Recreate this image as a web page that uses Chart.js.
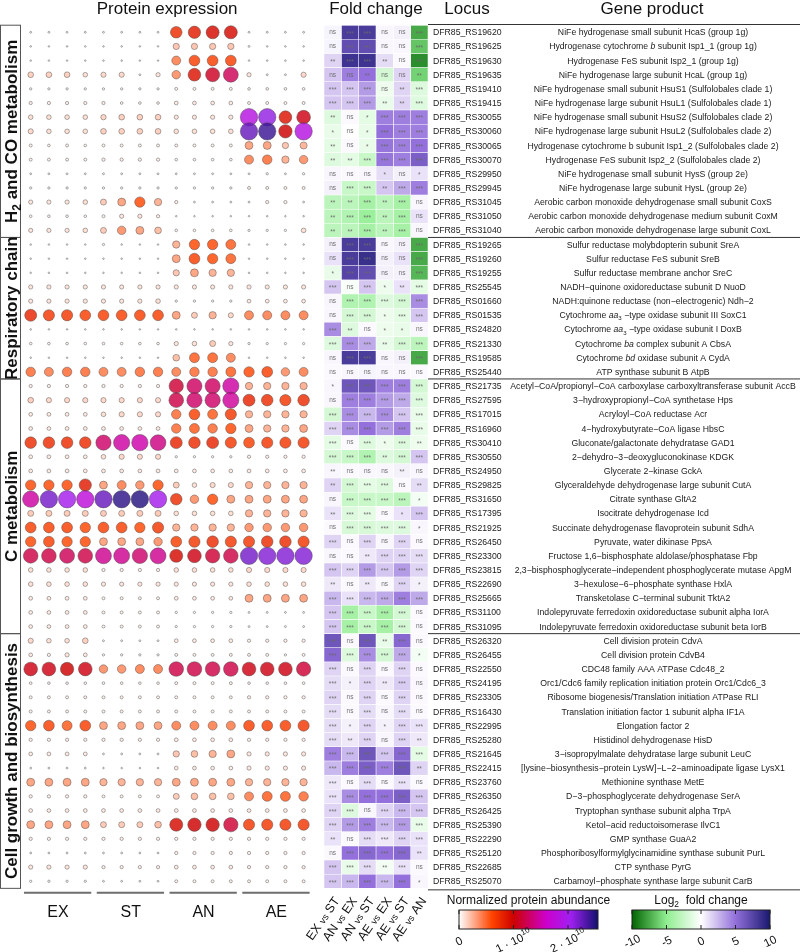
<!DOCTYPE html>
<html>
<head>
<meta charset="utf-8">
<script src="https://cdn.jsdelivr.net/npm/chart.js@4.4.1/dist/chart.umd.min.js"></script>
<style>
  html, body { margin: 0; padding: 0; background: #fff; }
  #wrap { position: relative; width: 800px; height: 952px; }
  canvas { position: absolute; top: 0; }
  #bubbles { left: 0; }
  #heat { left: 290px; }
</style>
</head>
<body>
<div id="wrap">
  <canvas id="bubbles" width="322" height="952"></canvas>
  <canvas id="heat" width="510" height="952"></canvas>
</div>
<script>
/* ==========================
   Data
   ========================== */
const groups = ['H~2~ and CO metabolism', 'Respiratory chain', 'C metabolism', 'Cell growth and biosynthesis'];
const groupSizes = [15, 10, 18, 18];
const conditions = ['EX', 'ST', 'AN', 'AE'];
const comparisons = ['EX %vs% ST', 'AN %vs% EX', 'AN %vs% ST', 'AE %vs% EX', 'AE %vs% ST', 'AE %vs% AN'];

const loci = [
  'RS19620', 'RS19625', 'RS19630', 'RS19635', 'RS19410', 'RS19415', 'RS30055', 'RS30060', 'RS30065', 'RS30070',
  'RS29950', 'RS29945', 'RS31045', 'RS31050', 'RS31040',
  'RS19265', 'RS19260', 'RS19255', 'RS25545', 'RS01660', 'RS01535', 'RS24820', 'RS21330', 'RS19585', 'RS25440',
  'RS21735', 'RS27595', 'RS17015', 'RS16960', 'RS30410', 'RS30550', 'RS24950', 'RS29825', 'RS31650', 'RS17395',
  'RS21925', 'RS26450', 'RS23300', 'RS23815', 'RS22690', 'RS25665', 'RS31100', 'RS31095',
  'RS26320', 'RS26455', 'RS22550', 'RS24195', 'RS23305', 'RS16430', 'RS22995', 'RS25280', 'RS21645', 'RS22415',
  'RS23760', 'RS26350', 'RS26425', 'RS25390', 'RS22290', 'RS25120', 'RS22685', 'RS25070'
].map(s => 'DFR85_' + s);

// *x* italic, ~x~ subscript
const products = [
  'NiFe hydrogenase small subunit HcaS (group 1g)',
  'Hydrogenase cytochrome *b* subunit Isp1_1 (group 1g)',
  'Hydrogenase FeS subunit Isp2_1 (group 1g)',
  'NiFe hydrogenase large subunit HcaL (group 1g)',
  'NiFe hydrogenase small subunit HsuS1 (Sulfolobales clade 1)',
  'NiFe hydrogenase large subunit HsuL1 (Sulfolobales clade 1)',
  'NiFe hydrogenase small subunit HsuS2 (Sulfolobales clade 2)',
  'NiFe hydrogenase large subunit HsuL2 (Sulfolobales clade 2)',
  'Hydrogenase cytochrome b subunit Isp1_2 (Sulfolobales clade 2)',
  'Hydrogenase FeS subunit Isp2_2 (Sulfolobales clade 2)',
  'NiFe hydrogenase small subunit HysS (group 2e)',
  'NiFe hydrogenase large subunit HysL (group 2e)',
  'Aerobic carbon monoxide dehydrogenase small subunit CoxS',
  'Aerobic carbon monoxide dehydrogenase medium subunit CoxM',
  'Aerobic carbon monoxide dehydrogenase large subunit CoxL',
  'Sulfur reductase molybdopterin subunit SreA',
  'Sulfur reductase FeS subunit SreB',
  'Sulfur reductase membrane anchor SreC',
  'NADH−quinone oxidoreductase subunit D NuoD',
  'NADH:quinone reductase (non−electrogenic) Ndh−2',
  'Cytochrome *aa*~3~ −type oxidase subunit III SoxC1',
  'Cytochrome *aa*~3~ −type oxidase subunit I DoxB',
  'Cytochrome *ba* complex subunit A CbsA',
  'Cytochrome *bd* oxidase subunit A CydA',
  'ATP synthase subunit B AtpB',
  'Acetyl−CoA/propionyl−CoA carboxylase carboxyltransferase subunit AccB',
  '3−hydroxypropionyl−CoA synthetase Hps',
  'Acryloyl−CoA reductase Acr',
  '4−hydroxybutyrate−CoA ligase HbsC',
  'Gluconate/galactonate dehydratase GAD1',
  '2−dehydro−3−deoxygluconokinase KDGK',
  'Glycerate 2−kinase GckA',
  'Glyceraldehyde dehydrogenase large subunit CutA',
  'Citrate synthase GltA2',
  'Isocitrate dehydrogenase Icd',
  'Succinate dehydrogenase flavoprotein subunit SdhA',
  'Pyruvate, water dikinase PpsA',
  'Fructose 1,6−bisphosphate aldolase/phosphatase Fbp',
  '2,3−bisphosphoglycerate−independent phosphoglycerate mutase ApgM',
  '3−hexulose−6−phosphate synthase HxlA',
  'Transketolase C−terminal subunit TktA2',
  'Indolepyruvate ferredoxin oxidoreductase subunit alpha IorA',
  'Indolepyruvate ferredoxin oxidoreductase subunit beta IorB',
  'Cell division protein CdvA',
  'Cell division protein CdvB4',
  'CDC48 family AAA ATPase Cdc48_2',
  'Orc1/Cdc6 family replication initiation protein Orc1/Cdc6_3',
  'Ribosome biogenesis/Translation initiation ATPase RLI',
  'Translation initiation factor 1 subunit alpha IF1A',
  'Elongation factor 2',
  'Histidinol dehydrogenase HisD',
  '3−isopropylmalate dehydratase large subunit LeuC',
  '[lysine−biosynthesis−protein LysW]−L−2−aminoadipate ligase LysX1',
  'Methionine synthase MetE',
  'D−3−phosphoglycerate dehydrogenase SerA',
  'Tryptophan synthase subunit alpha TrpA',
  'Ketol−acid reductoisomerase IlvC1',
  'GMP synthase GuaA2',
  'Phosphoribosylformylglycinamidine synthase subunit PurL',
  'CTP synthase PyrG',
  'Carbamoyl−phosphate synthase large subunit CarB'
];

// Normalized protein abundance (x 1e10), 4 replicates each of EX, ST, AN, AE
const abundH2 = [
  [.02,.02,.02,.02, .02,.02,.02,.02, .75,.85,.95,.95, .02,.02,.02,.02],
  [.01,.01,.01,.01, .01,.01,.01,.01, .22,.22,.22,.22, .02,.01,.01,.01],
  [.01,.01,.01,.01, .01,.01,.01,.01, .45,.65,.65,.65, .01,.01,.01,.01],
  [.18,.18,.18,.12, .15,.15,.02,.10, .40,.90,1.1,1.25, .10,.02,.02,.15],
  [.03,.03,.03,.03, .03,.03,.03,.03, .05,.05,.05,.05, .04,.04,.04,.04],
  [.06,.06,.06,.06, .06,.04,.04,.04, .08,.08,.08,.08, .05,.05,.05,.05],
  [.12,.12,.12,.12, .16,.18,.18,.18, .10,.10,.10,.10, 1.85,2.1,.90,1.05],
  [.15,.12,.12,.12, .18,.18,.18,.18, .12,.12,.12,.12, 2.25,2.4,1.0,1.85],
  [.05,.04,.05,.04, .05,.05,.05,.05, .05,.05,.05,.05, .35,.35,.22,.28],
  [.05,.05,.05,.05, .06,.06,.06,.06, .04,.04,.04,.04, .45,.50,.30,.40],
  [.02,.02,.02,.02, .02,.02,.02,.02, .02,.02,.02,.02, .02,.03,.02,.03],
  [.03,.03,.03,.03, .03,.03,.03,.03, .03,.03,.03,.03, .05,.05,.05,.05],
  [.10,.10,.10,.12, .20,.35,.60,.30, .06,.02,.02,.02, .02,.06,.06,.02],
  [.04,.04,.04,.04, .05,.10,.10,.06, .01,.01,.01,.01, .01,.01,.01,.01],
  [.10,.10,.10,.12, .20,.40,.35,.25, .04,.04,.04,.04, .03,.03,.03,.12]
];
const abundResp = [
  [.01,.01,.01,.01, .03,.01,.01,.01, .30,.60,.60,.55, .01,.01,.01,.01],
  [.01,.01,.01,.01, .01,.01,.01,.01, .35,.65,.60,.55, .01,.01,.01,.01],
  [.01,.01,.01,.01, .01,.01,.01,.01, .22,.35,.30,.30, .01,.01,.01,.01],
  [.10,.10,.10,.10, .10,.10,.10,.10, .10,.10,.10,.10, .10,.10,.10,.10],
  [.10,.10,.10,.10, .10,.10,.10,.12, .03,.03,.03,.03, .08,.08,.08,.08],
  [.80,.70,.70,.65, .65,.65,.65,.65, .35,.20,.30,.15, .45,.45,.45,.45],
  [.01,.01,.01,.01, .01,.01,.01,.01, .01,.01,.01,.01, .01,.01,.01,.01],
  [.04,.04,.04,.04, .04,.04,.04,.04, .10,.12,.20,.10, .03,.03,.03,.03],
  [.01,.01,.01,.01, .01,.01,.01,.01, .25,.55,.55,.45, .01,.01,.01,.01],
  [.50,.45,.50,.50, .45,.45,.50,.50, .45,.50,.50,.55, .60,.65,.40,.45]
];
const abundC = [
  [.06,.06,.06,.06, .06,.06,.06,.06, 1.15,1.28,1.28,1.47, .30,.30,.30,.30],
  [.18,.15,.15,.15, .15,.15,.15,.15, 1.2,1.3,1.3,1.45, .80,.75,.70,.75],
  [.08,.08,.08,.08, .12,.15,.15,.15, .50,.65,.55,.70, .30,.30,.30,.30],
  [.08,.08,.08,.08, .08,.08,.08,.08, .50,.55,.50,.60, .35,.30,.30,.35],
  [.75,.75,.75,.75, 1.3,1.47,1.5,1.38, .80,.75,.80,.70, .65,.70,.70,.70],
  [.08,.08,.08,.08, .12,.15,.15,.15, .03,.03,.03,.03, .06,.06,.06,.06],
  [.08,.08,.08,.08, .08,.08,.08,.08, .08,.08,.08,.08, .08,.08,.08,.08],
  [.60,.60,.60,.85, .35,.45,.40,.60, .20,.12,.15,.15, .30,.30,.30,.30],
  [1.47,2.2,2.0,1.76, 2.25,2.45,2.48,2.0, .75,.40,.60,.35, .35,.35,.35,.35],
  [.20,.20,.20,.20, .20,.20,.20,.20, .12,.12,.12,.12, .30,.30,.30,.30],
  [.65,.65,.65,.60, .65,.65,.60,.70, .30,.30,.30,.30, .40,.40,.40,.40],
  [.60,.65,.60,.60, .35,.35,.35,.40, .65,.70,.75,.70, .70,.75,.75,.70],
  [1.2,1.2,1.25,1.2, 1.42,1.42,1.32,1.42, .95,1.05,1.15,1.2, 2.2,2.15,2.15,2.15],
  [.12,.12,.12,.12, .06,.06,.06,.06, .12,.12,.12,.12, .15,.15,.15,.15],
  [.12,.12,.12,.12, .10,.10,.10,.10, .10,.10,.10,.10, .12,.12,.12,.12],
  [.08,.08,.08,.08, .05,.05,.05,.05, .08,.08,.08,.08, .35,.35,.35,.35],
  [.08,.08,.08,.08, .05,.05,.05,.05, .03,.03,.03,.03, .02,.02,.02,.02],
  [.08,.08,.08,.08, .05,.05,.05,.05, .03,.03,.03,.03, .02,.02,.02,.02]
];
const abundCell = [
  [.15,.12,.12,.18, .02,.02,.02,.02, .08,.08,.08,.08, .06,.06,.06,.06],
  [.08,.06,.10,.08, .03,.03,.03,.03, .05,.05,.05,.05, .05,.05,.03,.05],
  [1.05,1.05,1.0,1.05, .40,.40,.45,.45, 1.2,1.2,1.2,1.2, 1.05,1.05,1.05,1.15],
  [.04,.04,.04,.04, .04,.04,.04,.04, .05,.05,.05,.05, .04,.04,.04,.04],
  [.05,.05,.05,.05, .05,.05,.05,.05, .05,.05,.05,.05, .06,.06,.06,.06],
  [.05,.05,.05,.05, .05,.05,.05,.05, .05,.05,.05,.05, .05,.05,.05,.05],
  [.60,.65,.55,.65, .35,.35,.35,.35, .45,.45,.45,.45, .65,.65,.65,.70],
  [.06,.06,.06,.06, .06,.06,.06,.06, .08,.08,.08,.08, .06,.06,.06,.06],
  [.08,.08,.08,.08, .02,.02,.02,.02, .22,.25,.30,.35, .10,.10,.10,.10],
  [.02,.02,.02,.02, .01,.01,.01,.01, .08,.08,.08,.08, .10,.10,.10,.10],
  [.35,.35,.35,.35, .30,.30,.30,.30, .35,.35,.35,.35, .30,.30,.30,.30],
  [.06,.06,.06,.06, .05,.05,.05,.05, .20,.25,.25,.25, .45,.55,.55,.50],
  [.08,.08,.08,.08, .08,.08,.08,.08, .08,.08,.08,.08, .08,.08,.08,.08],
  [.35,.35,.35,.35, .20,.20,.20,.25, .95,1.0,1.0,1.15, .70,.70,.70,.70],
  [.06,.06,.06,.06, .06,.06,.06,.06, .06,.06,.06,.06, .06,.06,.06,.06],
  [.02,.02,.02,.02, .02,.02,.02,.02, .06,.06,.06,.06, .06,.06,.06,.06],
  [.10,.10,.10,.10, .06,.06,.06,.06, .08,.08,.08,.08, .06,.06,.06,.06],
  [.03,.03,.03,.03, .02,.02,.02,.02, .05,.05,.05,.05, .05,.05,.05,.05]
];

// Log2 fold change, columns follow `comparisons`
const fcH2 = [
  [0.4, 8, 8, 0.3, 0.5, -7.5],
  [0.4, 7, 7, 0.3, 0.3, -6.5],
  [1.5, 8.5, 8.5, 1.2, 0.2, -8.5],
  [2, 4.5, 5, -2, 1.5, -6],
  [2, 2, 3.5, -0.7, 1.5, -1.5],
  [2, 2, 3.5, -1, 1.5, -1.5],
  [-1.5, 0.2, -1.2, 4.5, 4.5, 4.5],
  [-1, 0, -1, 5, 4.5, 4.5],
  [-1.2, 0.2, -1, 4.8, 4.5, 5],
  [-1.5, -1.2, -2.5, 4.8, 4.5, 6],
  [0.3, 0.2, 0.3, 1.2, 0.5, 1],
  [0.5, -2.5, -2.5, 2, 3, 4.5],
  [-3, -3, -4, -3, -4, 0.3],
  [-3, -3.5, -4.5, -3, -4, 1],
  [-3, -3, -4, -3, -4, 0.3]
];
const fcResp = [
  [0.5, 8, 8, 0.3, 0.5, -7.5],
  [1, 8, 8.7, 0.5, 1, -7.5],
  [-1, 7.5, 7, 0.5, 0.5, -7],
  [2, -0.3, 2, -0.8, 1, -1.2],
  [0.3, -3.5, -3.5, -1.5, -2, 4],
  [0.3, -2, -2, -0.8, -1.2, 2],
  [4, -1.5, 0.2, -0.8, -1, 0.3],
  [-1.5, 4, 3, -1, -2, -3],
  [0.3, 8, 8, 0.3, 0.5, -7.5],
  [0.2, 0.3, 0.4, 0.3, 0.3, 0.2]
];
const fcC = [
  [0.3, 6.5, 6.5, 4.5, 4.5, -2],
  [0.3, 4.5, 4.5, 3.5, 3, -1.5],
  [-2, 4, 2.5, 4, 2, -1],
  [1.5, 4, 5, 3.5, 4.5, -1],
  [-1.2, 0.2, -1.5, -0.8, -1.5, -0.8],
  [-2, -2.5, -3.5, -1.5, -2, 2],
  [0.3, 0.2, 0.3, 0.3, 0.5, 0.3],
  [1.5, -2, -1.2, -1.5, 0.2, 1.2],
  [0.3, -2.5, -2.5, -2.5, -3, -0.5],
  [1, -1.5, -1.2, 0.2, 1, 2],
  [0.2, -1.8, -1.8, -1.5, -1.5, 0.3],
  [1.5, 0.2, 1.5, 0.3, 1.5, 0.2],
  [0.3, 0.2, 0.8, 1.5, 1.5, 1.2],
  [2, 1.5, 3.5, 2, 3.5, 1.5],
  [0.8, 0.2, 0.8, 0.2, 1.5, 0.5],
  [2.5, 1, 2.5, 3, 4.5, 3],
  [2, -4, -2.5, -4, -2, 0.2],
  [2, -4, -2.5, -4, -2, 0.2]
];
const fcCell = [
  [6.5, 0.2, 6.5, -1, 5.5, 0.2],
  [5.5, -1.5, 4, -2, 3, -0.5],
  [1.5, 0.2, 1.5, 0.2, 1.5, 0.2],
  [1.2, 0.5, 1.5, 0.8, 1.8, 0.3],
  [1.5, 0.2, 1.5, 0.2, 1.5, 0.2],
  [1.2, 0.2, 1.2, 0.3, 1.2, 0.2],
  [1.2, 0.5, 1.5, 0.5, 1.5, 1],
  [1.2, 0.8, 1.5, 0.3, 1.5, 0.8],
  [4.5, 2.5, 6.5, 2, 5.5, -1.2],
  [2.5, 4.5, 6, 4.5, 6.5, 1.5],
  [0.8, 0.2, 1.2, 0.2, 1, 0.2],
  [1, 4, 5, 5, 6, 2],
  [1.5, -1.5, 0.3, 1.5, 2.5, 2],
  [1.5, 3.5, 4.5, 2.5, 3.5, -1],
  [1, 0.2, 1.2, 0.8, 1.5, 1],
  [0.2, 5, 5.5, 5, 5.5, 1],
  [2, -1, 1.2, -0.5, 1, 0.2],
  [2, 2.5, 5, 2.5, 5, 0.3]
];

// Significance labels per cell
const sigH2 = [
  'ns *** *** ns ns ***', 'ns *** *** ns ns ***', '** *** *** ** ns ***', 'ns ns ** ns ns **',
  '*** *** *** ns ** ***', '*** *** *** ** ** ***', '** ns * *** *** ***', '* ns * *** *** ***',
  '** ns * *** *** ***', '** ** *** *** *** ***', 'ns ns ns * ns *', 'ns *** *** ** *** ***',
  '** ** *** ** *** ns', '** *** *** ** *** ns', '** ** *** ** *** ns'
];
const sigResp = [
  'ns *** *** ns ns ***', 'ns *** *** ns ns ***', '* *** *** ns ns ***', '*** ns *** * ** ***',
  'ns *** *** *** *** ***', 'ns *** *** * *** ***', '*** ** ns * * ns', '*** *** *** ** *** ***',
  'ns *** *** ns ns ***', 'ns ns ns ns ns ns'
];
const sigC = [
  '* *** *** *** *** ***', 'ns *** *** *** *** ***', '*** *** *** *** *** ***', '*** *** *** *** *** ***',
  '*** ns *** * *** **', '*** *** *** ** *** ***', '** ns ns ns ** ns', '** *** *** *** ns **',
  'ns *** *** *** *** *', '** *** *** ns * ***', 'ns *** *** *** *** *', '*** ns *** ns *** ns',
  'ns ns ** *** *** ***', '*** *** *** *** *** ***', '** ns ** ns *** *', '*** *** *** *** *** ***',
  '*** *** *** *** *** ns', '*** *** *** *** *** ns'
];
const sigCell = [
  '*** ns *** ** *** ns', '*** *** *** *** *** *', '*** ns *** ns *** ns', '*** * *** ** *** ns',
  '*** ns *** ns *** ns', '*** ns *** ns *** ns', '*** * *** * *** ***', '*** ** *** ns *** **',
  '*** *** *** *** *** ***', '*** *** *** *** *** **', '*** ns *** ns *** ns', '*** *** *** *** *** ***',
  '*** *** ns *** *** ***', '*** *** *** *** *** ***', '** ns *** *** *** ***', 'ns *** *** *** *** **',
  '*** *** *** ** *** ns', '*** *** *** *** *** *'
];

// Colour scales
const abundanceStops = [[0, '#ffffff'], [0.6, '#ff4500'], [1.0, '#cd0000'], [1.6, '#cd00cd'], [2.05, '#a020f0'], [2.55, '#10106e']];
const abundanceTicks = [0, 1, 2];
const foldStops = [[-10, '#006400'], [-5, '#90ee90'], [0, '#ffffff'], [5, '#9370db'], [10, '#191970']];
const foldTicks = [-10, -5, 0, 5, 10];

/* ==========================
   Helpers
   ========================== */
const FONT = '"Liberation Sans", Arial, Helvetica, sans-serif';
const ROW_TOP = 25.2;
const ROW_H = 14.15;

const abundance = [...abundH2, ...abundResp, ...abundC, ...abundCell];
const foldChange = [...fcH2, ...fcResp, ...fcC, ...fcCell];
const significance = [...sigH2, ...sigResp, ...sigC, ...sigCell].map(s => s.split(' '));
const NROW = loci.length;
const ROW_BOTTOM = ROW_TOP + NROW * ROW_H;

function hexToRgb(h) {
  return [parseInt(h.slice(1, 3), 16), parseInt(h.slice(3, 5), 16), parseInt(h.slice(5, 7), 16)];
}

function scaleColor(stops, v, alpha) {
  const a = alpha === undefined ? 1 : alpha;
  if (v <= stops[0][0]) v = stops[0][0];
  if (v >= stops[stops.length - 1][0]) v = stops[stops.length - 1][0];
  let k = 0;
  while (k < stops.length - 2 && v > stops[k + 1][0]) k++;
  const [v0, c0] = stops[k], [v1, c1] = stops[k + 1];
  const t = (v - v0) / (v1 - v0);
  const p = hexToRgb(c0), q = hexToRgb(c1);
  const rgb = p.map((x, i) => Math.round(x + (q[i] - x) * t));
  return `rgba(${rgb[0]},${rgb[1]},${rgb[2]},${a})`;
}

function bubbleRadius(v) {
  return Math.max(0.8, Math.min(8.7, 6.7 * Math.sqrt(v)));
}

// tiny markup: *italic*  ~sub~  ^sup^  %small%
function parseRich(s) {
  return s.split(/(\*[^*]+\*|~[^~]+~|\^[^^]+\^|%[^%]+%)/).filter(Boolean).map(t => {
    if (t[0] === '*') return { t: t.slice(1, -1), it: true };
    if (t[0] === '~') return { t: t.slice(1, -1), sub: true };
    if (t[0] === '^') return { t: t.slice(1, -1), sup: true };
    if (t[0] === '%') return { t: t.slice(1, -1), small: true };
    return { t };
  });
}

function drawRich(ctx, s, x, y, align, size, weight) {
  const parts = parseRich(s);
  const fontOf = p => {
    const sz = (p.sub || p.sup) ? size * 0.7 : p.small ? size * 0.75 : size;
    return `${p.it ? 'italic ' : ''}${weight || 'normal'} ${sz}px ${FONT}`;
  };
  let w = 0;
  parts.forEach(p => { ctx.font = fontOf(p); p.w = ctx.measureText(p.t).width; w += p.w; });
  let cx = align === 'center' ? x - w / 2 : align === 'right' ? x - w : x;
  const base = y + size * 0.35;
  ctx.textAlign = 'left';
  ctx.textBaseline = 'alphabetic';
  parts.forEach(p => {
    ctx.font = fontOf(p);
    const dy = p.sub ? size * 0.25 : p.sup ? -size * 0.45 : 0;
    ctx.fillText(p.t, cx, base + dy);
    cx += p.w;
  });
}

/* ==========================
   Bubble chart (protein expression)
   ========================== */
const bubblePoints = [];
abundance.forEach((row, i) => {
  row.forEach((v, c) => bubblePoints.push({ x: c + 1, y: i, r: bubbleRadius(v), v }));
});

const bubbleDecor = {
  id: 'bubbleDecor',
  afterDraw(chart) {
    const { ctx, scales: { x, y } } = chart;
    ctx.save();
    ctx.fillStyle = '#111';
    drawRich(ctx, 'Protein expression', (x.left + x.right) / 2, 8, 'center', 17);

    // group boxes with rotated labels
    let start = 0;
    groups.forEach((g, gi) => {
      const n = groupSizes[gi];
      const y0 = y.getPixelForValue(start - 0.5);
      const y1 = y.getPixelForValue(start + n - 0.5);
      ctx.strokeStyle = '#555';
      ctx.lineWidth = 1;
      ctx.strokeRect(0.5, y0, 20, y1 - y0);
      ctx.save();
      ctx.translate(11, (y0 + y1) / 2);
      ctx.rotate(-Math.PI / 2);
      ctx.fillStyle = '#111';
      drawRich(ctx, g, 0, 0, 'center', 17, 'bold');
      ctx.restore();
      start += n;
    });

    // condition brackets
    const yb = ROW_BOTTOM + 4.5;
    conditions.forEach((c, k) => {
      const xa = x.getPixelForValue(k * 4 + 0.63);
      const xb = x.getPixelForValue(k * 4 + 4.33);
      ctx.strokeStyle = '#6e6e6e';
      ctx.lineWidth = 2;
      ctx.beginPath();
      ctx.moveTo(xa, yb);
      ctx.lineTo(xb, yb);
      ctx.stroke();
      ctx.fillStyle = '#111';
      drawRich(ctx, c, x.getPixelForValue(k * 4 + 2.5), yb + 19, 'center', 16);
    });
    ctx.restore();
  }
};

new Chart(document.getElementById('bubbles'), {
  type: 'bubble',
  data: {
    datasets: [{
      data: bubblePoints,
      backgroundColor: c => scaleColor(abundanceStops, c.raw.v, 0.82),
      borderColor: 'rgba(70,70,70,0.75)',
      borderWidth: 0.6,
      hoverRadius: 0,
      clip: false
    }]
  },
  options: {
    responsive: false,
    animation: false,
    events: [],
    layout: { padding: { left: 21.6, right: 0.3, top: ROW_TOP, bottom: 952 - ROW_BOTTOM } },
    scales: {
      x: { type: 'linear', min: 0.5, max: 16.5, display: false },
      y: { type: 'linear', min: -0.5, max: NROW - 0.5, reverse: true, display: false }
    },
    plugins: { legend: { display: false }, tooltip: { enabled: false } }
  },
  plugins: [bubbleDecor]
});

/* ==========================
   Heatmap (fold change) + text columns
   ========================== */
const OX = 290; // page offset of the heatmap canvas

function drawColorbar(ctx, x0, x1, yTop, h, stops, ticks, tickLabel, title) {
  const vmin = stops[0][0], vmax = stops[stops.length - 1][0];
  const grad = ctx.createLinearGradient(x0, 0, x1, 0);
  stops.forEach(([v, c]) => grad.addColorStop((v - vmin) / (vmax - vmin), c));
  ctx.fillStyle = grad;
  ctx.fillRect(x0, yTop, x1 - x0, h);
  ctx.strokeStyle = '#222';
  ctx.lineWidth = 1;
  ctx.strokeRect(x0, yTop, x1 - x0, h);
  ticks.forEach(t => {
    const tx = x0 + (t - vmin) / (vmax - vmin) * (x1 - x0);
    ctx.beginPath();
    ctx.moveTo(tx, yTop); ctx.lineTo(tx, yTop + 4);
    ctx.moveTo(tx, yTop + h); ctx.lineTo(tx, yTop + h - 4);
    ctx.stroke();
    ctx.save();
    ctx.translate(tx, yTop + h + 12);
    ctx.rotate(-Math.PI / 7);
    ctx.fillStyle = '#111';
    drawRich(ctx, tickLabel(t), 0, 0, 'center', 11.5);
    ctx.restore();
  });
  ctx.fillStyle = '#111';
  drawRich(ctx, title, (x0 + x1) / 2, yTop - 10, 'center', 12);
}

const heatDecor = {
  id: 'heatDecor',
  afterDraw(chart) {
    const { ctx, scales: { x, y } } = chart;
    ctx.save();
    ctx.translate(-OX, 0); // work in page coordinates

    // significance marks
    chart.data.datasets.forEach((ds, j) => {
      chart.getDatasetMeta(j).data.forEach((bar, i) => {
        const p = bar.getCenterPoint();
        const s = significance[i][j];
        ctx.fillStyle = 'rgba(105,105,105,0.95)';
        ctx.font = `6.5px ${FONT}`;
        ctx.textAlign = 'center';
        ctx.textBaseline = 'middle';
        ctx.fillText(s, p.x + OX, p.y + (s === 'ns' ? 0 : 1.5));
      });
    });

    // locus and gene product columns
    loci.forEach((l, i) => {
      const py = y.getPixelForValue(i);
      ctx.fillStyle = '#1a1a1a';
      drawRich(ctx, l, 433, py, 'left', 8.7);
      drawRich(ctx, products[i], 653, py, 'center', 8.7);
    });

    // headers
    ctx.fillStyle = '#111';
    drawRich(ctx, 'Fold change', (x.left + x.right) / 2 + OX, 8, 'center', 17);
    drawRich(ctx, 'Locus', 467, 8, 'center', 17);
    drawRich(ctx, 'Gene product', 652, 8, 'center', 17);

    // horizontal rules
    ctx.strokeStyle = '#333';
    ctx.lineWidth = 1;
    const rules = [ROW_TOP - 0.7];
    let acc = 0;
    groupSizes.forEach(n => { acc += n; rules.push(y.getPixelForValue(acc - 0.5) + (acc === NROW ? 1.5 : 0)); });
    rules.forEach(ry => {
      ctx.beginPath();
      ctx.moveTo(x.right + OX, ry);
      ctx.lineTo(800, ry);
      ctx.stroke();
    });

    // rotated comparison labels
    comparisons.forEach((c, j) => {
      ctx.save();
      ctx.translate(x.getPixelForValue(j + 1) + OX + 4, ROW_BOTTOM + 10);
      ctx.rotate(-Math.PI * 55 / 180);
      ctx.fillStyle = '#111';
      drawRich(ctx, c, 0, 0, 'right', 12.5);
      ctx.restore();
    });

    // colour bars
    drawColorbar(ctx, 459, 598, 910, 19, abundanceStops, abundanceTicks,
      t => t === 0 ? '0' : `${t} · 10^10^`, 'Normalized protein abundance');
    drawColorbar(ctx, 632, 770, 910, 19, foldStops, foldTicks,
      t => String(t), 'Log~2~  fold change');

    ctx.restore();
  }
};

new Chart(document.getElementById('heat'), {
  type: 'bar',
  data: {
    labels: loci,
    datasets: comparisons.map((name, j) => ({
      label: name,
      data: loci.map(() => [j + 0.5, j + 1.5]),
      backgroundColor: c => scaleColor(foldStops, foldChange[c.dataIndex][j]),
      borderColor: 'rgba(255,255,255,0.85)',
      borderWidth: 0.6,
      borderSkipped: false,
      barPercentage: 1,
      categoryPercentage: 1,
      grouped: false
    }))
  },
  options: {
    indexAxis: 'y',
    responsive: false,
    animation: false,
    events: [],
    layout: { padding: { left: 324 - OX, right: 800 - 428, top: ROW_TOP, bottom: 952 - ROW_BOTTOM } },
    scales: {
      x: { type: 'linear', min: 0.5, max: 6.5, display: false },
      y: { type: 'category', offset: true, display: false }
    },
    plugins: { legend: { display: false }, tooltip: { enabled: false } }
  },
  plugins: [heatDecor]
});
</script>
</body>
</html>
